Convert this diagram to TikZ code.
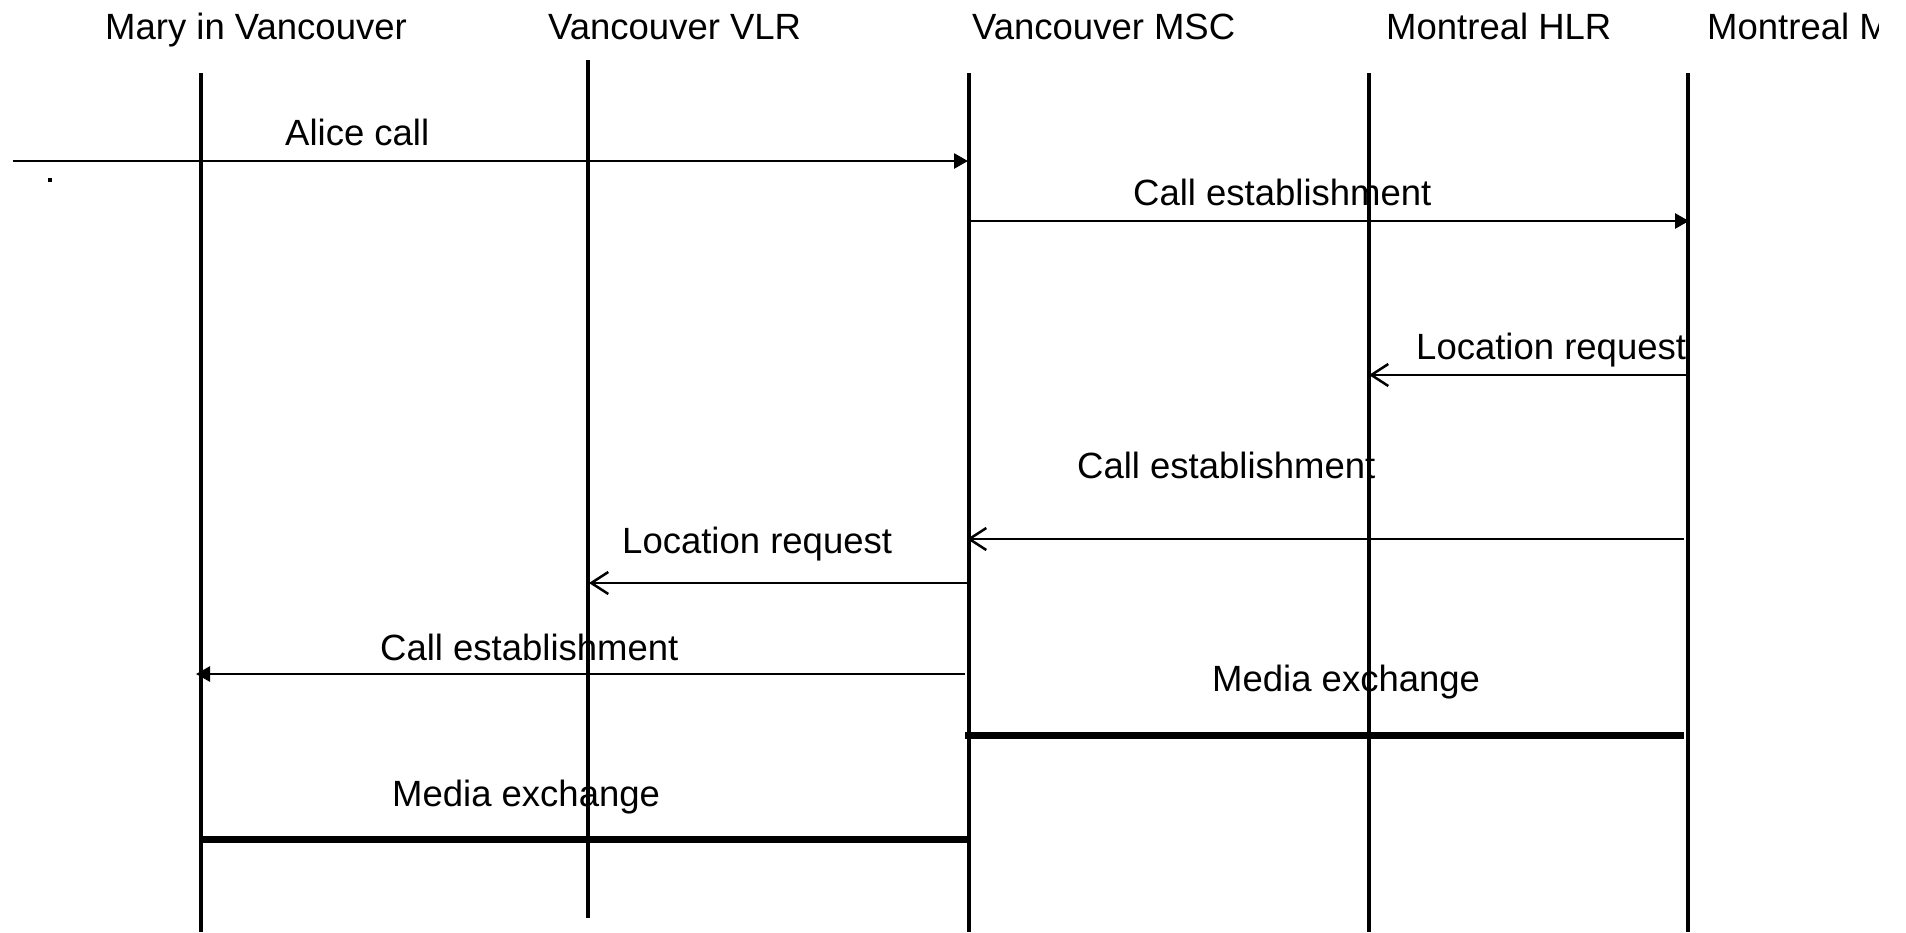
\documentclass[tikz,border=0pt]{standalone}
\usepackage{fontspec}
\setmainfont{Liberation Sans}
\usetikzlibrary{arrows.meta}

\tikzset{
  label/.style={inner sep=0pt, anchor=base west, font=\fontsize{36.5}{44}\selectfont},
  lifeline/.style={line width=3.2pt},
  msg/.style={line width=2.7pt},
  sync/.style={msg, -{Triangle[length=14pt, width=15pt]}},
  reply/.style={msg, -{Straight Barb[length=17pt, width=22pt, line width=2.5pt]}},
  media/.style={line width=7pt},
}

\begin{document}
\begin{tikzpicture}[x=1pt, y=-1pt]
  \clip (0,0) rectangle (1906,932);
  \fill[white] (0,0) rectangle (1906,932);

  % participants
  \node[label] (mary) at (105,39)  {Mary in Vancouver};
  \node[label] (vlr)  at (548,39)  {Vancouver VLR};
  \node[label] (msc)  at (972,39)  {Vancouver MSC};
  \node[label] (hlr)  at (1386,39) {Montreal HLR};
  \begin{scope}
    % the last header runs into the frame of the drawing area
    \clip (0,0) rectangle (1878,70);
    \node[label] (mmsc) at (1707,39) {Montreal MSC};
  \end{scope}

  % lifelines
  \coordinate (mary-t) at (201,73);   \coordinate (mary-b) at (201,932);
  \coordinate (vlr-t)  at (588,60);   \coordinate (vlr-b)  at (588,918);
  \coordinate (msc-t)  at (969,73);   \coordinate (msc-b)  at (969,932);
  \coordinate (hlr-t)  at (1369,73);  \coordinate (hlr-b)  at (1369,932);
  \coordinate (mmsc-t) at (1688,73);  \coordinate (mmsc-b) at (1688,932);
  \foreach \p in {mary,vlr,msc,hlr,mmsc}
    \draw[lifeline] (\p-t) -- (\p-b);

  % message end points
  \coordinate (m1s) at (12.7,161); \coordinate (m1e) at (968,161);
  \coordinate (m2s) at (968,221);  \coordinate (m2e) at (1689,221);
  \coordinate (m3s) at (1688,375); \coordinate (m3e) at (1369,375);
  \coordinate (m4s) at (1684,539); \coordinate (m4e) at (967,539);
  \coordinate (m5s) at (971,583);  \coordinate (m5e) at (589,583);
  \coordinate (m6s) at (965,674);  \coordinate (m6e) at (196,674);
  \coordinate (m7s) at (965,735);  \coordinate (m7e) at (1684,735);
  \coordinate (m8s) at (200,839);  \coordinate (m8e) at (968,839);

  % messages
  \draw[sync]  (m1s) -- (m1e);
  \draw[sync]  (m2s) -- (m2e);
  \draw[reply] (m3s) -- (m3e);
  \draw[reply] (m4s) -- (m4e);
  \draw[reply] (m5s) -- (m5e);
  \draw[sync]  (m6s) -- (m6e);
  \draw[media] (m7s) -- (m7e);
  \draw[media] (m8s) -- (m8e);

  % message labels
  \node[label] (l1) at (285,145)  {Alice call};
  \node[label] (l2) at (1133,205) {Call establishment};
  \node[label] (l3) at (1416,359) {Location request};
  \node[label] (l4) at (1077,478) {Call establishment};
  \node[label] (l5) at (622,553)  {Location request};
  \node[label] (l6) at (380,660)  {Call establishment};
  \node[label] (l7) at (1212,691) {Media exchange};
  \node[label] (l8) at (392,806)  {Media exchange};

  % stray mark below the incoming call
  \fill (47.5,177.5) rectangle (51.5,181.5);
\end{tikzpicture}
\end{document}
